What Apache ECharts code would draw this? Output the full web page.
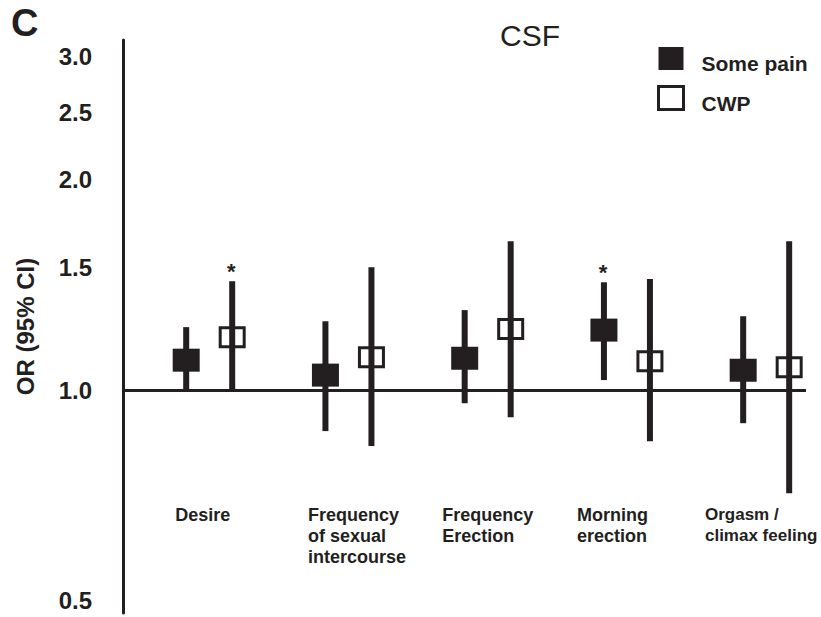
<!DOCTYPE html>
<html>
<head>
<meta charset="utf-8">
<script src="https://cdn.jsdelivr.net/npm/echarts@6/dist/echarts.min.js"></script>
<style>html,body{margin:0;padding:0;background:#fff}#c{width:821px;height:617px}</style>
</head>
<body>
<div id="c"></div>
<script>
// ---- data ----
const categories = ['Desire', 'Frequency\nof sexual\nintercourse', 'Frequency\nErection', 'Morning\nerection', 'Orgasm /\nclimax feeling'];
const somePainOR   = [1.104, 1.051, 1.111, 1.219, 1.068];
const somePainLow  = [1.000, 0.874, 0.958, 1.034, 0.897];
const somePainHigh = [1.231, 1.255, 1.302, 1.427, 1.276];
const cwpOR   = [1.191, 1.115, 1.223, 1.100, 1.079];
const cwpLow  = [1.000, 0.832, 0.915, 0.845, 0.712];
const cwpHigh = [1.432, 1.500, 1.634, 1.442, 1.634];
const somePainSig = [0, 0, 0, 1, 0];
const cwpSig      = [1, 0, 0, 0, 0];
const yTickLabels = [0.5, 1.0, 1.5, 2.0, 2.5, 3.0];
const referenceOR = 1.0;

// ---- styles ----
const INK = '#231f20';
const FONT = '"Liberation Sans", Arial, Helvetica, sans-serif';
const labelPadding = [[0, 13, 0, 0], [0, 0, 0, 17], [0, 0, 0, 0], [0, 29, 0, 0], [0, 10, 0, 0]];
const labelFontSize = [18, 18, 18, 18, 17];

function buildData(est, lo, hi, sig) {
  return est.map((v, i) => [i, v, lo[i], hi[i], sig[i]]);
}

function makeRender(filled, dx) {
  return function (params, api) {
    const i = api.value(0);
    const e = api.coord([i, api.value(1)]);
    const l = api.coord([i, api.value(2)]);
    const h = api.coord([i, api.value(3)]);
    const x = e[0] + dx;
    const ch = [];
    ch.push({ type: 'rect', shape: { x: x - 3, y: h[1], width: 6, height: l[1] - h[1] }, style: { fill: INK } });
    if (filled) {
      ch.push({ type: 'rect', shape: { x: x - 13.5, y: e[1] - 11.5, width: 27, height: 23 }, style: { fill: INK } });
    } else {
      ch.push({ type: 'rect', shape: { x: x - 12, y: e[1] - 9.5, width: 24, height: 19 }, style: { fill: 'none', stroke: INK, lineWidth: 3 } });
    }
    if (api.value(4)) {
      ch.push({ type: 'text', x: x - 1, y: h[1] - 10, style: { text: '*', fill: INK, font: 'bold 22px ' + FONT, align: 'center', verticalAlign: 'middle' } });
    }
    return { type: 'group', children: ch };
  };
}

const rich = {};
categories.forEach((c, i) => {
  rich['c' + i] = { fontSize: labelFontSize[i], fontWeight: 'bold', color: INK, fontFamily: FONT, lineHeight: 21, align: 'left', padding: labelPadding[i] };
});

const chart = echarts.init(document.getElementById('c'), null, { renderer: 'svg' });
chart.setOption({
  backgroundColor: '#fff',
  animation: false,
  title: [
    { text: 'C', left: 11, top: 4, padding: 0, textStyle: { fontSize: 38, fontWeight: 'bold', color: INK, fontFamily: FONT } },
    { text: 'CSF', left: 500, top: 20, padding: 0, textStyle: { fontSize: 30, fontWeight: 'normal', color: INK, fontFamily: FONT } }
  ],
  legend: {
    orient: 'vertical', left: 657, top: 47, padding: 0, itemWidth: 25, itemHeight: 23, itemGap: 11,
    selectedMode: false,
    data: [
      { name: 'Some pain', icon: 'rect', itemStyle: { color: INK, borderWidth: 0 } },
      { name: 'CWP', icon: 'rect', itemStyle: { color: '#fff', borderColor: INK, borderWidth: 3 } }
    ],
    formatter: n => '{t|' + n + '}',
    textStyle: { rich: { t: { fontSize: 21, fontWeight: 'bold', color: INK, fontFamily: FONT, padding: [10, 0, 0, 13] } } }
  },
  grid: { left: 123, right: 15, top: 40, bottom: 4, containLabel: false, outerBoundsMode: 'none' },
  xAxis: {
    type: 'value', min: -0.619, max: 4.286, offset: -113,
    axisLine: { show: false, onZero: false }, axisTick: { show: false }, splitLine: { show: false },
    axisLabel: {
      customValues: categories.map((c, i) => i), margin: 4, align: 'center', verticalAlign: 'top',
      formatter: v => { const i = Math.round(v); return categories[i].split('\n').map(s => '{c' + i + '|' + s + '}').join('\n'); },
      rich: rich
    }
  },
  yAxis: {
    type: 'log', logBase: 10, min: 0.48, max: 3.17,
    axisLine: { show: true, onZero: false, lineStyle: { color: INK, width: 3 } },
    axisTick: { show: false }, splitLine: { show: false }, minorTick: { show: false },
    axisLabel: { customValues: yTickLabels, formatter: v => Number(v).toFixed(1), margin: 31, fontSize: 24, fontWeight: 'bold', color: INK, fontFamily: FONT },
    name: 'OR (95% CI)', nameLocation: 'middle', nameGap: 86, nameRotate: 90,
    nameTextStyle: { fontSize: 24, fontWeight: 'bold', color: INK, fontFamily: FONT }
  },
  series: [
    {
      name: 'Some pain', type: 'custom', renderItem: makeRender(true, -23),
      itemStyle: { color: INK }, encode: { x: 0, y: [1, 2, 3] },
      data: buildData(somePainOR, somePainLow, somePainHigh, somePainSig),
      markLine: { silent: true, symbol: 'none', label: { show: false }, lineStyle: { color: INK, width: 3, type: 'solid' }, data: [{ yAxis: referenceOR }] }
    },
    {
      name: 'CWP', type: 'custom', renderItem: makeRender(false, 23),
      itemStyle: { color: '#fff', borderColor: INK }, encode: { x: 0, y: [1, 2, 3] },
      data: buildData(cwpOR, cwpLow, cwpHigh, cwpSig)
    }
  ]
});
</script>
</body>
</html>
